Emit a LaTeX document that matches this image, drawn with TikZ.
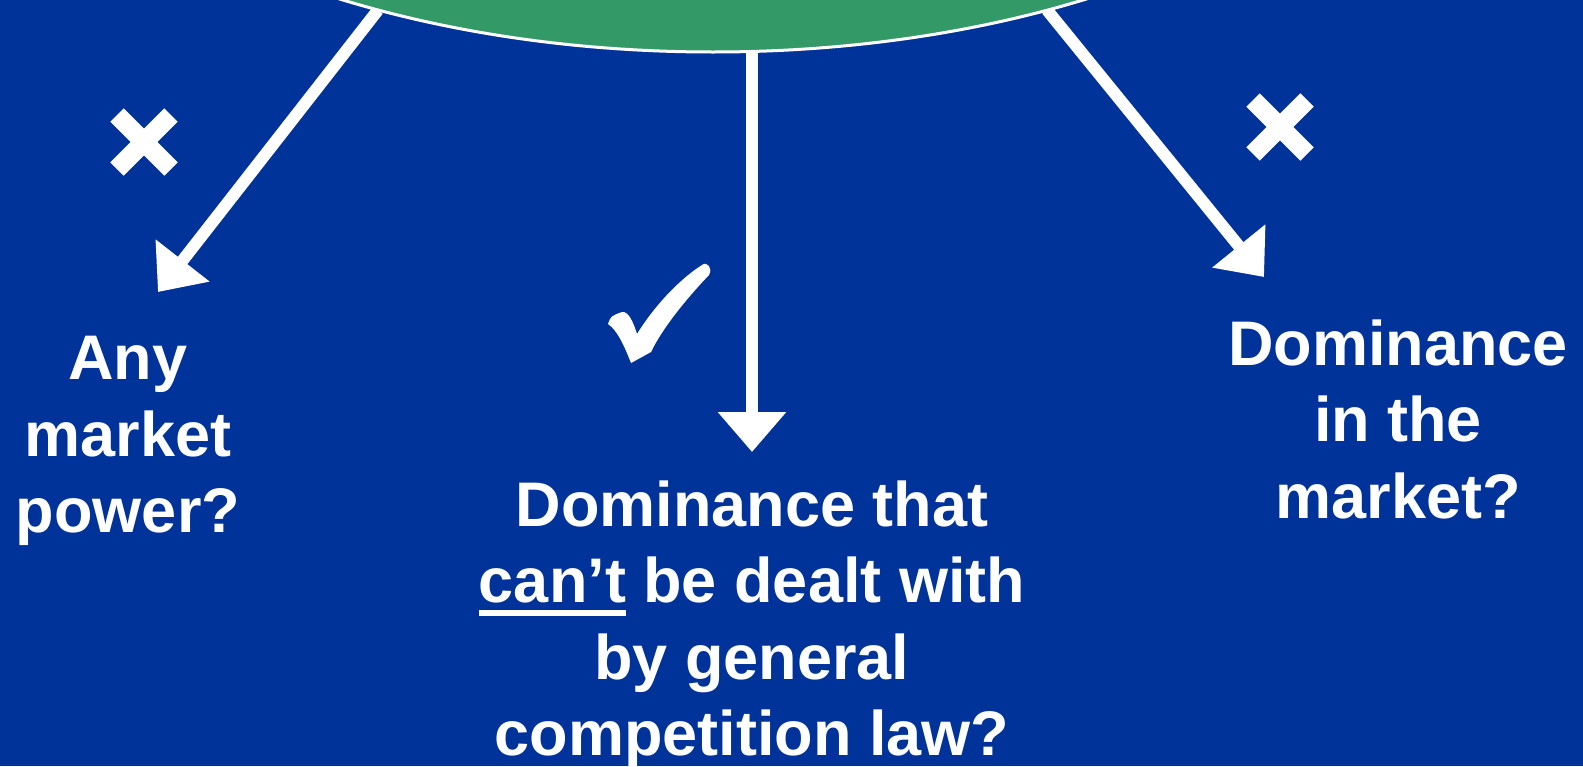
\documentclass[tikz,border=0pt]{standalone}
\usepackage{fontspec}
\setmainfont{Liberation Sans}
\usetikzlibrary{arrows.meta, shapes.geometric}
\definecolor{bgblue}{HTML}{003399}
\definecolor{topgreen}{HTML}{339966}
\newcommand{\underword}[1]{\setbox0\hbox{#1}\rlap{\rule[-6.5pt]{\wd0}{3pt}}\box0\relax}

\begin{document}
\begin{tikzpicture}[
  x=0.5pt, y=-0.5pt,
  question/.style={text=white, align=center, inner sep=0pt, anchor=north,
    font=\bfseries\fontsize{31.5}{38.25}\selectfont},
  arrow/.style={-{Triangle[length=20pt, width=33pt]}, line width=6pt, white},
  crossbar/.style={line width=9.5pt, white}
]

\fill[bgblue] (0,0) rectangle (1583,766);
\useasboundingbox (0,0) rectangle (1583,766);

% start points on the ellipse border, arrow tips
\coordinate (lstart) at (378,10);
\coordinate (mstart) at (752,51);
\coordinate (rstart) at (1047,10);
\coordinate (ltip) at (158,292);
\coordinate (mtip) at (752,452);
\coordinate (rtip) at (1264,277);

\draw[arrow] (lstart) -- (ltip);
\draw[arrow] (mstart) -- (mtip);
\draw[arrow] (rstart) -- (rtip);

\node[ellipse, fill=topgreen, draw=white, line width=1.5pt, inner sep=0pt,
  minimum width=750pt, minimum height=400pt] (top) at (713,-348) {};

\node[question] (anypower) at (128,336) {Any\\market\\power?};
\node[question] (general) at (752,480) {Dominance that\\\underword{can’t} be dealt with\\by general\\competition law?};
\node[question] (inmarket) at (1398,319) {Dominance\\in the\\market?};

% crosses
\foreach \cx/\cy in {144/142, 1280/127} {
  \draw[crossbar] (\cx-27,\cy-27) -- (\cx+27,\cy+27);
  \draw[crossbar] (\cx-27,\cy+27) -- (\cx+27,\cy-27);
}

% tick
\fill[white] (608,324) .. controls (611,316) .. (622,312)
  .. controls (628,311) and (633,321) .. (637,334)
  .. controls (655,305) and (680,279) .. (702,265)
  .. controls (707,261) and (713,268) .. (709,275)
  .. controls (688,297) and (663,327) .. (651,352)
  -- (631,363)
  .. controls (624,345) and (617,330) .. (608,324) -- cycle;

\end{tikzpicture}
\end{document}
